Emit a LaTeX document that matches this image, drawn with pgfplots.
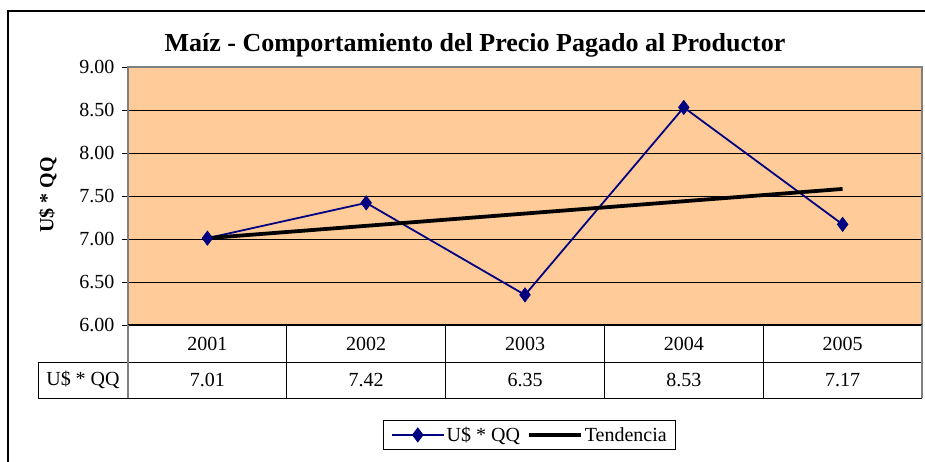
\documentclass[border=0pt]{standalone}
\usepackage{pgfplots}
\pgfplotsset{compat=1.18}
\usepackage{fontspec}
\setmainfont{Liberation Serif}
\definecolor{peach}{RGB}{255,204,153}
\definecolor{navyline}{RGB}{0,0,128}
\definecolor{framegray}{RGB}{128,128,128}

\newcommand{\sz}{\fontsize{20bp}{24bp}\selectfont}

\begin{document}
\begin{tikzpicture}
\useasboundingbox (0bp,0bp) rectangle (925bp,462bp);
% outer chart frame (right and bottom sides cut off)
\draw[line width=1.5bp] (8bp,-10bp) -- (8bp,451bp) -- (940bp,451bp);
\begin{axis}[
  at={(128bp,137bp)}, anchor=south west,
  scale only axis,
  width=794bp, height=258bp,
  xmin=0.5, xmax=5.5,
  ymin=6, ymax=9,
  xtick=\empty,
  ytick={6,6.5,7,7.5,8,8.5,9},
  ytick pos=left,
  tick align=outside,
  major tick length=6bp,
  tick style={black, line width=0.8bp},
  yticklabel style={/pgf/number format/.cd, fixed, fixed zerofill, precision=2,
    assume math mode=true, /tikz/xshift=-4bp},
  tick label style={font=\sz},
  ymajorgrids,
  major grid style={black, line width=0.8bp},
  axis line style={framegray, line width=1.5bp},
  axis background/.style={fill=peach},
  clip=false,
  ylabel={\bfseries U\$ * QQ},
  ylabel style={at={(axis description cs:-0.101,0.504)}, anchor=center, font=\sz},
  legend style={at={(0.506,-0.426)}, anchor=center, draw=black, line width=0.8bp,
    font=\sz, inner xsep=7bp, inner ysep=5bp},
  legend columns=2,
  legend cell align=left,
  legend image code/.code={%
    \draw[mark repeat=2, mark phase=2, #1]
      plot coordinates {(0bp,0bp) (26bp,0bp) (52bp,0bp)};},
  /tikz/every even column/.append style={column sep=5bp},
]
\addplot[navyline, line width=1.8bp, mark=diamond*, mark size=7bp,
  mark options={fill=navyline, draw=navyline, line width=0.8bp}]
  coordinates {(1,7.01) (2,7.42) (3,6.35) (4,8.53) (5,7.17)};
\addlegendentry{U\$ * QQ}
\addplot[black, line width=3.8bp, no marks]
  coordinates {(1,7.010) (2,7.153) (3,7.296) (4,7.439) (5,7.582)};
\addlegendentry{Tendencia}

% bottom axis line
\draw[black, line width=2bp] (axis cs:0.5,6) -- (axis cs:5.5,6);
% data table
\draw[black, line width=0.8bp]
  (axis cs:-0.067,5.5698) -- (axis cs:5.5,5.5698)
  (axis cs:-0.067,5.1512) -- (axis cs:5.5,5.1512)
  (axis cs:-0.067,5.5698) -- (axis cs:-0.067,5.1512)
  (axis cs:1.5,6) -- (axis cs:1.5,5.1512)
  (axis cs:2.5,6) -- (axis cs:2.5,5.1512)
  (axis cs:3.5,6) -- (axis cs:3.5,5.1512)
  (axis cs:4.5,6) -- (axis cs:4.5,5.1512);
\draw[framegray, line width=1.5bp] (axis cs:0.5,6) -- (axis cs:0.5,5.1512);
\draw[framegray, line width=1.5bp] (axis cs:5.5,6) -- (axis cs:5.5,5.1512);
\node[font=\sz] at (axis cs:1,5.785) {2001};
\node[font=\sz] at (axis cs:2,5.785) {2002};
\node[font=\sz] at (axis cs:3,5.785) {2003};
\node[font=\sz] at (axis cs:4,5.785) {2004};
\node[font=\sz] at (axis cs:5,5.785) {2005};
\node[font=\sz] at (axis cs:0.2165,5.3605) {U\$ * QQ};
\node[font=\sz] at (axis cs:1,5.3605) {7.01};
\node[font=\sz] at (axis cs:2,5.3605) {7.42};
\node[font=\sz] at (axis cs:3,5.3605) {6.35};
\node[font=\sz] at (axis cs:4,5.3605) {8.53};
\node[font=\sz] at (axis cs:5,5.3605) {7.17};
% title
\node[font=\fontsize{26bp}{30bp}\selectfont\bfseries] at (axis description cs:0.437,1.085)
  {Maíz - Comportamiento del Precio Pagado al Productor};
\end{axis}
\end{tikzpicture}
\end{document}
